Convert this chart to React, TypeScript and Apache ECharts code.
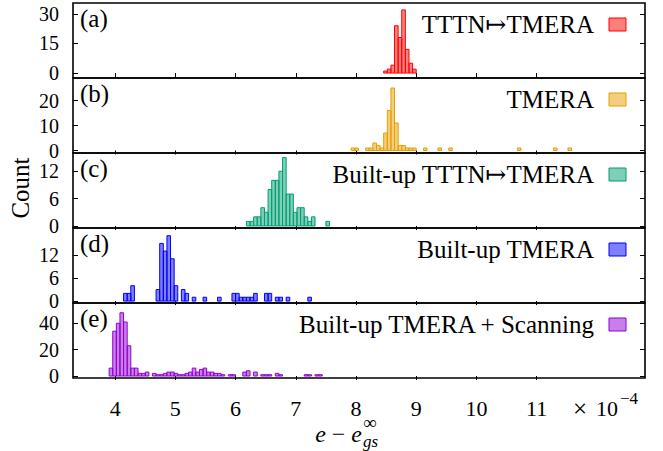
import React, { useEffect, useRef } from "react";
import * as echarts from "echarts";

// ---------- data (x in units of 1e-4, left bin edge; counts) ----------
const BIN_WIDTH = 0.06;
const X_MIN = 3.3;
const X_MAX = 12.8;
const X_TICKS = [4, 5, 6, 7, 8, 9, 10, 11];

const panelLabels = ["(a)", "(b)", "(c)", "(d)", "(e)"];
const seriesNames = [
  "TTTN\u21A6TMERA",
  "TMERA",
  "Built-up TTTN\u21A6TMERA",
  "Built-up TMERA",
  "Built-up TMERA + Scanning",
];

const aBins = [8.46, 8.52, 8.58, 8.64, 8.7, 8.76, 8.82, 8.88, 8.94];
const aCounts = [1, 2, 4, 24, 18, 32, 12, 5, 2];

const bBins = [7.92, 7.98, 8.16, 8.22, 8.28, 8.34, 8.4, 8.46, 8.52, 8.58, 8.64, 8.7, 8.76, 8.82, 8.88, 8.94, 9.12, 9.36, 9.54, 10.68, 11.28, 11.52];
const bCounts = [1, 1, 1, 1, 3, 2, 1, 7, 16, 25, 11, 2, 2, 1, 1, 1, 1, 1, 1, 1, 1, 1];

const cBins = [6.18, 6.24, 6.3, 6.36, 6.42, 6.48, 6.54, 6.6, 6.66, 6.72, 6.78, 6.84, 6.9, 6.96, 7.02, 7.08, 7.14, 7.2, 7.26, 7.5];
const cCounts = [1, 1, 2, 2, 4, 3, 8, 10, 10, 12, 15, 7, 7, 3, 4, 4, 2, 1, 2, 1];

const dBins = [4.14, 4.2, 4.26, 4.68, 4.74, 4.8, 4.86, 4.92, 4.98, 5.1, 5.16, 5.28, 5.46, 5.7, 5.94, 6.0, 6.06, 6.12, 6.18, 6.24, 6.3, 6.48, 6.54, 6.66, 6.72, 6.84, 7.2];
const dCounts = [2, 2, 4, 3, 15, 13, 17, 11, 4, 3, 2, 1, 1, 1, 2, 2, 1, 1, 1, 1, 2, 2, 2, 1, 1, 1, 1];

const eBins = [3.9, 3.96, 4.02, 4.08, 4.14, 4.2, 4.26, 4.32, 4.38, 4.44, 4.5, 4.62, 4.68, 4.74, 4.8, 4.86, 4.92, 4.98, 5.04, 5.1, 5.16, 5.22, 5.28, 5.34, 5.4, 5.46, 5.52, 5.58, 5.64, 5.7, 5.76, 5.88, 5.94, 6.12, 6.18, 6.3, 6.42, 6.48, 6.54, 6.66, 6.72, 7.14, 7.2, 7.32, 7.38];
const eCounts = [6, 34, 40, 48, 41, 23, 6, 6, 2, 2, 3, 2, 1, 1, 2, 3, 3, 2, 1, 1, 2, 3, 6, 3, 5, 6, 3, 3, 2, 2, 1, 1, 1, 3, 4, 3, 1, 1, 1, 2, 1, 1, 1, 1, 1];

const yMins = [-2.5, -1, -0.45, -0.5, -1.5];
const yMaxs = [35.5, 29, 16, 19, 55.4];
const yTicks = [
  [0, 15, 30],
  [0, 10, 20],
  [0, 6, 12],
  [0, 6, 12],
  [0, 20, 40],
];

const strokeColors = ["#ff0000", "#e69f00", "#009e73", "#0000ff", "#9400d3"];
const fillColors = [
  "rgba(255,0,0,0.5)",
  "rgba(230,159,0,0.5)",
  "rgba(0,158,115,0.5)",
  "rgba(0,0,255,0.5)",
  "rgba(148,0,211,0.5)",
];

const allBins = [aBins, bBins, cBins, dBins, eBins];
const allCounts = [aCounts, bCounts, cCounts, dCounts, eCounts];

// ---------- layout ----------
const W = 663;
const H = 451;
const LEFT = 73;
const RIGHT_EDGE = 645;
const TOP = 3;
const PANEL_H = 75;
const FONT = "'Liberation Serif', 'DejaVu Serif', serif";
const FS_YTICK = 20;
const FS_XTICK = 22;
const FS_TEXT = 25;

export default function App() {
  const ref = useRef<HTMLDivElement>(null);

  useEffect(() => {
    if (!ref.current) return;
    const chart = echarts.init(ref.current, undefined, { renderer: "svg" });

    const grids: any[] = [];
    const xAxes: any[] = [];
    const yAxes: any[] = [];
    const series: any[] = [];
    const graphics: any[] = [];

    for (let i = 0; i < 5; i++) {
      const top = TOP + i * PANEL_H;
      grids.push({
        left: LEFT,
        width: RIGHT_EDGE - LEFT,
        top,
        height: PANEL_H,
        show: true,
        borderColor: "#000",
        borderWidth: 1.6,
        backgroundColor: "transparent",
      });
      xAxes.push({
        type: "value",
        gridIndex: i,
        min: X_MIN,
        max: X_MAX,
        axisLine: { show: false },
        splitLine: { show: false },
        axisTick: {
          show: true,
          inside: false,
          length: 4,
          customValues: X_TICKS,
          lineStyle: { color: "#000", width: 1 },
        },
        axisLabel: {
          show: i === 4,
          customValues: X_TICKS,
          margin: 19,
          color: "#000",
          fontFamily: FONT,
          fontSize: FS_XTICK,
        },
      });
    }
    for (let i = 0; i < 5; i++) {
      yAxes.push({
        type: "value",
        gridIndex: i,
        position: "left",
        min: yMins[i],
        max: yMaxs[i],
        axisLine: { show: false },
        splitLine: { show: false },
        axisTick: {
          show: true,
          inside: true,
          length: 5,
          customValues: yTicks[i],
          lineStyle: { color: "#000", width: 1 },
        },
        axisLabel: {
          show: true,
          customValues: yTicks[i],
          margin: 14,
          color: "#000",
          fontFamily: FONT,
          fontSize: FS_YTICK,
        },
      });
    }
    for (let i = 0; i < 5; i++) {
      yAxes.push({
        type: "value",
        gridIndex: i,
        position: "right",
        min: yMins[i],
        max: yMaxs[i],
        axisLine: { show: false },
        splitLine: { show: false },
        axisTick: {
          show: true,
          inside: true,
          length: 5,
          customValues: yTicks[i],
          lineStyle: { color: "#000", width: 1 },
        },
        axisLabel: { show: false },
      });
    }

    for (let i = 0; i < 5; i++) {
      const bins = allBins[i];
      const counts = allCounts[i];
      const data = bins.map((b, k) => [b, counts[k]]);
      const fill = fillColors[i];
      const stroke = strokeColors[i];
      series.push({
        type: "custom",
        name: seriesNames[i],
        xAxisIndex: i,
        yAxisIndex: i,
        data,
        encode: { x: 0, y: 1 },
        renderItem: (params: any, api: any) => {
          const x0 = api.value(0) as number;
          const c = api.value(1) as number;
          const p1 = api.coord([x0, c]);
          const p2 = api.coord([x0 + BIN_WIDTH, 0]);
          return {
            type: "rect",
            shape: {
              x: p1[0],
              y: p1[1],
              width: p2[0] - p1[0],
              height: p2[1] - p1[1],
            },
            style: { fill, stroke, lineWidth: 1 },
          };
        },
      });

      const top = TOP + i * PANEL_H;
      graphics.push({
        type: "text",
        x: 80,
        y: top + 15,
        style: {
          text: panelLabels[i],
          fill: "#000",
          font: `${FS_TEXT}px ${FONT}`,
          align: "left",
          verticalAlign: "middle",
        },
      });
      graphics.push({
        type: "text",
        x: 594,
        y: top + 21,
        style: {
          text: seriesNames[i],
          fill: "#000",
          font: `${FS_TEXT}px ${FONT}`,
          align: "right",
          verticalAlign: "middle",
        },
      });
      graphics.push({
        type: "rect",
        shape: { x: 609, y: top + 15, width: 17, height: 13 },
        style: { fill, stroke, lineWidth: 1 },
      });
    }

    // y label
    graphics.push({
      type: "text",
      x: 20,
      y: 188,
      rotation: Math.PI / 2,
      style: {
        text: "Count",
        fill: "#000",
        font: `${FS_TEXT}px ${FONT}`,
        align: "center",
        verticalAlign: "middle",
      },
    });
    // x label: e − e_gs^∞
    graphics.push({
      type: "text",
      x: 362,
      y: 434,
      style: {
        text: "{i|e} \u2212 {i|e}",
        align: "right",
        verticalAlign: "middle",
        fill: "#000",
        font: `24px ${FONT}`,
        rich: { i: { fontStyle: "italic", fontFamily: FONT, fontSize: 24 } },
      },
    });
    graphics.push({
      type: "text",
      x: 363,
      y: 422,
      style: {
        text: "\u221E",
        align: "left",
        verticalAlign: "middle",
        fill: "#000",
        font: `19px ${FONT}`,
      },
    });
    graphics.push({
      type: "text",
      x: 363,
      y: 441,
      style: {
        text: "gs",
        align: "left",
        verticalAlign: "middle",
        fill: "#000",
        font: `italic 17px ${FONT}`,
      },
    });
    // ×10^-4
    graphics.push({
      type: "text",
      x: 573,
      y: 408,
      style: {
        text: "\u00D7",
        align: "left",
        verticalAlign: "middle",
        fill: "#000",
        font: `${FS_TEXT}px ${FONT}`,
      },
    });
    graphics.push({
      type: "text",
      x: 596,
      y: 408,
      style: {
        text: "10",
        align: "left",
        verticalAlign: "middle",
        fill: "#000",
        font: `${FS_XTICK}px ${FONT}`,
      },
    });
    graphics.push({
      type: "text",
      x: 620,
      y: 398,
      style: {
        text: "\u22124",
        align: "left",
        verticalAlign: "middle",
        fill: "#000",
        font: `17px ${FONT}`,
      },
    });

    chart.setOption({
      animation: false,
      backgroundColor: "#fff",
      grid: grids,
      xAxis: xAxes,
      yAxis: yAxes,
      series,
      graphic: graphics,
    });

    return () => chart.dispose();
  }, []);

  return (
    <div
      ref={ref}
      style={{ position: "fixed", left: 0, top: 0, width: W, height: H }}
    />
  );
}
